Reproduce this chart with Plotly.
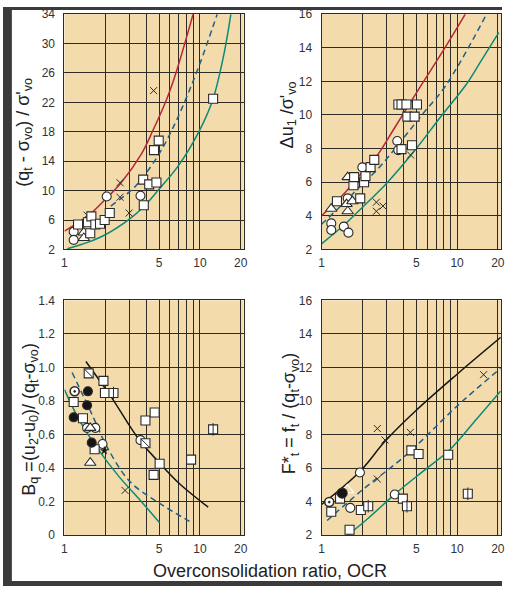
import plotly.graph_objects as go

# ---------------- tick labels ----------------
x_tickvals = [1, 5, 10, 20]
x_ticktext = ["1", "5", "10", "20"]
x_gridvals = [2, 3, 4, 6, 7, 8, 9]
p1_yticks = [2, 6, 10, 14, 18, 22, 26, 30, 34]
p2_yticks = [2, 4, 6, 8, 10, 12, 14, 16]
p3_yticks = [0, 0.2, 0.4, 0.6, 0.8, 1.0, 1.2, 1.4]
p3_yticktext = ["0", "0.2", "0.4", "0.6", "0.8", "1.0", "1.2", "1.4"]
p4_yticks = [2, 4, 6, 8, 10, 12, 14, 16]

# ---------------- panel 1: (qt - svo)/s'vo ----------------
p1_red_x = [1, 1.5, 2, 2.6, 3.7, 4.5, 5.7, 6.7, 8.9]
p1_red_y = [4.5, 6.6, 8.8, 11.0, 15.0, 18.2, 22.5, 26.2, 34]
p1_dash_x = [2.2, 3.0, 3.5, 5, 6.5, 8, 10, 13.4]
p1_dash_y = [7.9, 9.8, 11.0, 15.0, 19.0, 22.8, 27.3, 34]
p1_teal_x = [1.05, 1.5, 2, 3, 3.85, 5, 7, 10, 12.5, 15, 16.9]
p1_teal_y = [2.1, 3.0, 4.0, 6.1, 7.8, 10.2, 13.5, 18.3, 22.5, 28.5, 34]
p1_sq_x = [1.26, 1.49, 1.55, 1.58, 1.69, 1.83, 1.98, 2.16, 3.81, 3.85, 4.22, 4.77, 4.58, 4.96, 12.5]
p1_sq_y = [5.4, 5.7, 4.2, 6.5, 5.4, 5.5, 6.0, 6.95, 11.5, 8.0, 10.85, 11.1, 15.5, 16.8, 22.5]
p1_ci_x = [1.17, 1.17, 2.05, 3.64]
p1_ci_y = [4.4, 3.3, 9.2, 9.3]
p1_tr_x = [1.39, 1.39]
p1_tr_y = [4.3, 3.55]
p1_x_x = [1.47, 2.57, 2.57, 3.0, 4.55]
p1_x_y = [6.65, 9.1, 11.07, 6.95, 23.6]

# ---------------- panel 2: du1/s'vo ----------------
p2_red_x = [1, 1.5, 2, 2.58, 3.5, 5.47, 8, 11.5]
p2_red_y = [4.0, 5.4, 6.6, 7.6, 9.3, 11.8, 13.9, 16]
p2_dash_x = [1, 1.5, 2, 2.58, 4, 5.5, 7.85, 11, 16.5]
p2_dash_y = [3.5, 4.85, 5.9, 6.75, 8.6, 10.0, 11.5, 13.4, 16]
p2_teal_x = [1, 1.5, 2, 3.05, 5, 7.5, 11.6, 15, 20.3]
p2_teal_y = [2.33, 3.53, 4.5, 5.97, 8.0, 9.85, 11.78, 13.2, 14.9]
p2_sq_x = [1.30, 1.72, 1.74, 2.06, 2.11, 1.93, 2.3, 2.45, 3.89, 4.65, 4.3, 4.86, 3.69, 3.89, 4.23, 5.06]
p2_sq_y = [4.87, 5.82, 6.3, 6.0, 6.36, 5.04, 6.9, 7.33, 7.97, 8.2, 9.9, 9.9, 10.62, 10.62, 10.62, 10.62]
p2_ci_x = [1.18, 1.18, 1.46, 1.58, 1.56, 2.0, 3.62, 3.68]
p2_ci_y = [3.55, 3.16, 3.36, 3.0, 5.04, 6.88, 8.45, 7.91]
p2_tr_x = [1.18, 1.56, 1.53, 1.56, 1.69]
p2_tr_y = [4.42, 6.3, 4.7, 4.27, 4.87]
p2_x_x = [2.54, 2.84, 2.54, 4.54]
p2_x_y = [4.81, 4.58, 4.27, 7.62]

# ---------------- panel 3: Bq ----------------
p3_black_x = [1.44, 2.23, 3.5, 5.04, 7, 11.5]
p3_black_y = [1.036, 0.82, 0.577, 0.43, 0.31, 0.167]
p3_dash_x = [1.14, 1.64, 2.05, 3.04, 5.04, 8.36]
p3_dash_y = [0.97, 0.70, 0.53, 0.32, 0.19, 0.083]
p3_teal_x = [1, 1.3, 1.78, 2.5, 3.7, 5.04]
p3_teal_y = [0.868, 0.68, 0.51, 0.354, 0.2, 0.074]
p3_sq_x = [1.94, 1.99, 1.17, 1.37, 1.67, 3.96, 4.63, 5.04, 4.55, 8.6]
p3_sq_y = [0.92, 0.848, 0.794, 0.697, 0.513, 0.684, 0.732, 0.426, 0.36, 0.451]
p3_sqdiag_x = [1.51, 3.96]
p3_sqdiag_y = [0.965, 0.548]
p3_sqsplit_x = [2.3, 12.5]
p3_sqsplit_y = [0.848, 0.631]
p3_ci_x = [1.47, 1.69, 1.91, 3.64]
p3_ci_y = [0.64, 0.64, 0.544, 0.567]
p3_cidot_x = [1.19]
p3_cidot_y = [0.858]
p3_fill_x = [1.49, 1.47, 1.17, 1.59]
p3_fill_y = [0.858, 0.775, 0.703, 0.552]
p3_tr_x = [1.55, 1.55]
p3_tr_y = [0.64, 0.432]
p3_star_x = [1.97]
p3_star_y = [0.504]
p3_x_x = [2.8]
p3_x_y = [0.267]

# ---------------- panel 4: F*t ----------------
p4_black_x = [1, 1.92, 2.94, 5, 10, 21]
p4_black_y = [3.83, 5.8, 7.6, 9.45, 11.6, 13.8]
p4_dash_x = [1.1, 2, 4.3, 10, 21]
p4_dash_y = [2.88, 4.7, 6.85, 9.7, 11.96]
p4_teal_x = [1.56, 2.2, 3.62, 6, 8.83, 14, 21]
p4_teal_y = [2.0, 3.0, 4.57, 6.0, 7.1, 8.95, 10.6]
p4_sq_x = [1.37, 1.18, 1.95, 1.61, 3.98, 4.6, 5.2, 8.6]
p4_sq_y = [4.18, 3.4, 3.5, 2.33, 4.18, 7.06, 6.84, 6.8]
p4_sqsplit_x = [2.21, 4.27, 12.0]
p4_sqsplit_y = [3.73, 3.73, 4.47]
p4_ci_x = [1.63, 1.92, 3.47]
p4_ci_y = [3.63, 5.74, 4.43]
p4_cidot_x = [1.14]
p4_cidot_y = [3.98]
p4_fill_x = [1.42]
p4_fill_y = [4.51]
p4_tr_x = [1.55]
p4_tr_y = [4.7]
p4_x_x = [2.58, 2.94, 4.52, 2.58, 15.7]
p4_x_y = [8.36, 7.68, 8.13, 5.35, 11.57]

# ---------------- styles ----------------
RED = "#b8263a"
BLUE = "#1f5f8b"
TEAL = "#0b8a78"
BLACK = "#151515"
EDGE = "#2a2a2a"
BG = "#f3dbab"
GRID = "#2e2a24"

fig = go.Figure()


def curve(ax, x, y, color, dash="solid"):
    fig.add_trace(go.Scatter(x=x, y=y, mode="lines", xaxis="x" + ax, yaxis="y" + ax,
                             line=dict(color=color, width=1.5, dash=dash, shape="spline"),
                             hoverinfo="skip"))


def marks(ax, x, y, symbol, size=9, fill="white", lw=1.1):
    fig.add_trace(go.Scatter(x=x, y=y, mode="markers", xaxis="x" + ax, yaxis="y" + ax,
                             marker=dict(symbol=symbol, size=size, color=fill,
                                         line=dict(color=EDGE, width=lw))))


DASH = "6px,4px"

# panel 1
curve("", p1_red_x, p1_red_y, RED)
curve("", p1_dash_x, p1_dash_y, BLUE, DASH)
curve("", p1_teal_x, p1_teal_y, TEAL)
marks("", p1_x_x, p1_x_y, "x-thin", size=7, fill=EDGE, lw=1)
marks("", p1_ci_x, p1_ci_y, "circle", size=9)
marks("", p1_tr_x, p1_tr_y, "triangle-up", size=10)
marks("", p1_sq_x, p1_sq_y, "square", size=9)

# panel 2
curve("2", p2_red_x, p2_red_y, RED)
curve("2", p2_dash_x, p2_dash_y, BLUE, DASH)
curve("2", p2_teal_x, p2_teal_y, TEAL)
marks("2", p2_x_x, p2_x_y, "x-thin", size=7, fill=EDGE, lw=1)
marks("2", p2_ci_x, p2_ci_y, "circle", size=9)
marks("2", p2_tr_x, p2_tr_y, "triangle-up", size=10)
marks("2", p2_sq_x, p2_sq_y, "square", size=9)

# panel 3
curve("3", p3_black_x, p3_black_y, BLACK)
curve("3", p3_dash_x, p3_dash_y, BLUE, DASH)
curve("3", p3_teal_x, p3_teal_y, TEAL)
marks("3", p3_x_x, p3_x_y, "x-thin", size=7, fill=EDGE, lw=1)
marks("3", p3_ci_x, p3_ci_y, "circle", size=9)
marks("3", p3_tr_x, p3_tr_y, "triangle-up", size=10)
marks("3", p3_sq_x, p3_sq_y, "square", size=9)
marks("3", p3_sqdiag_x, p3_sqdiag_y, "square", size=9)
marks("3", p3_sqdiag_x, p3_sqdiag_y, "line-nw", size=9, lw=1)
marks("3", p3_sqsplit_x, p3_sqsplit_y, "square", size=9)
marks("3", p3_sqsplit_x, p3_sqsplit_y, "line-ns", size=9, lw=1)
marks("3", p3_cidot_x, p3_cidot_y, "circle-dot", size=9, lw=1.6)
marks("3", p3_fill_x, p3_fill_y, "circle", size=9, fill=BLACK)
marks("3", p3_star_x, p3_star_y, "star", size=6, fill=BLACK, lw=0.5)

# panel 4
curve("4", p4_black_x, p4_black_y, BLACK)
curve("4", p4_dash_x, p4_dash_y, BLUE, DASH)
curve("4", p4_teal_x, p4_teal_y, TEAL)
marks("4", p4_x_x, p4_x_y, "x-thin", size=7, fill=EDGE, lw=1)
marks("4", p4_tr_x, p4_tr_y, "triangle-up-open", size=11)
marks("4", p4_ci_x, p4_ci_y, "circle", size=9)
marks("4", p4_sq_x, p4_sq_y, "square", size=9)
marks("4", p4_sqsplit_x, p4_sqsplit_y, "square", size=9)
marks("4", p4_sqsplit_x, p4_sqsplit_y, "line-ns", size=9, lw=1)
marks("4", p4_cidot_x, p4_cidot_y, "circle-dot", size=9, lw=1.6)
marks("4", p4_fill_x, p4_fill_y, "circle", size=10, fill=BLACK)

W, H = 506, 593


def xd(a, b):
    return [a / W, b / W]


def yd(top, bot):
    return [1 - bot / H, 1 - top / H]


tickfont = dict(family="Liberation Sans, Arial, sans-serif", size=12, color="#333333")


def xax(dom, anchor):
    return dict(domain=dom, anchor=anchor, type="log", range=[0, 1.322],
                tickvals=x_tickvals, ticktext=x_ticktext, showgrid=True,
                gridcolor=GRID, gridwidth=1, showline=True, linecolor=GRID,
                linewidth=1, mirror=True, ticks="", tickfont=tickfont,
                zeroline=False, ticklabelstandoff=2,
                minor=dict(tickvals=x_gridvals, showgrid=True, gridcolor=GRID,
                           gridwidth=1, ticks=""))


def yax(dom, anchor, rng, vals, text=None):
    d = dict(domain=dom, anchor=anchor, range=rng, tickvals=vals, showgrid=True,
             gridcolor=GRID, gridwidth=1, showline=True, linecolor=GRID,
             linewidth=1, mirror=True, ticks="", tickfont=tickfont,
             zeroline=False, ticklabelstandoff=6)
    if text is not None:
        d["ticktext"] = text
    return d


top_y = yd(7.3, 248.3)
bot_y = yd(300.5, 541)
left_x = xd(62.3, 244)
right_x = xd(323, 504.7)

fig.update_layout(
    width=W, height=H, margin=dict(l=0, r=0, t=0, b=0),
    paper_bgcolor="white", plot_bgcolor=BG, showlegend=False,
    font=dict(family="Liberation Sans, Arial, sans-serif", color="#222222"),
    xaxis=xax(left_x, "y"), yaxis=yax(top_y, "x", [2, 34], p1_yticks),
    xaxis2=xax(right_x, "y2"), yaxis2=yax(top_y, "x2", [2, 16], p2_yticks),
    xaxis3=xax(left_x, "y3"), yaxis3=yax(bot_y, "x3", [0, 1.4], p3_yticks, p3_yticktext),
    xaxis4=xax(right_x, "y4"), yaxis4=yax(bot_y, "x4", [2, 16], p4_yticks),
)

tfont = dict(family="Liberation Sans, Arial, sans-serif", size=18, color="#222222")


def vtitle(text, xpx, ypx):
    fig.add_annotation(text=text, x=xpx / W, y=1 - ypx / H, xref="paper", yref="paper",
                       textangle=-90, showarrow=False, font=tfont,
                       xanchor="center", yanchor="middle")


vtitle("(q<sub>t</sub> - σ<sub>vo</sub>) / σ'<sub>vo</sub>", 22, 128)
vtitle("Δu<sub>1</sub> /σ'<sub>vo</sub>", 289, 111)
vtitle("B<sub>q</sub> =(u<sub>2</sub>-u<sub>0</sub>)/ (q<sub>t</sub>-σ<sub>vo</sub>)", 27, 422)
vtitle("F*<sub>t</sub> = f<sub>t</sub> / (q<sub>t</sub>-σ<sub>vo</sub>)", 291, 416)

fig.add_annotation(text="Overconsolidation ratio, OCR", x=271 / W, y=1 - 578 / H,
                   xref="paper", yref="paper", showarrow=False, font=tfont,
                   xanchor="center", yanchor="middle")

# dark frame around the picture
FRAME = "#3b3b3b"
for x0, y0, x1, y1 in [(0, 0, 9, H), (0, 0, W, 3), (0, 588, W, H)]:
    fig.add_shape(type="rect", xref="paper", yref="paper", x0=x0 / W, x1=x1 / W,
                  y0=1 - y1 / H, y1=1 - y0 / H, fillcolor=FRAME, line=dict(width=0),
                  layer="above")

fig.write_html("out.html", config={"displayModeBar": False},
               post_script="document.body.style.margin='0';document.body.style.overflow='hidden';")
